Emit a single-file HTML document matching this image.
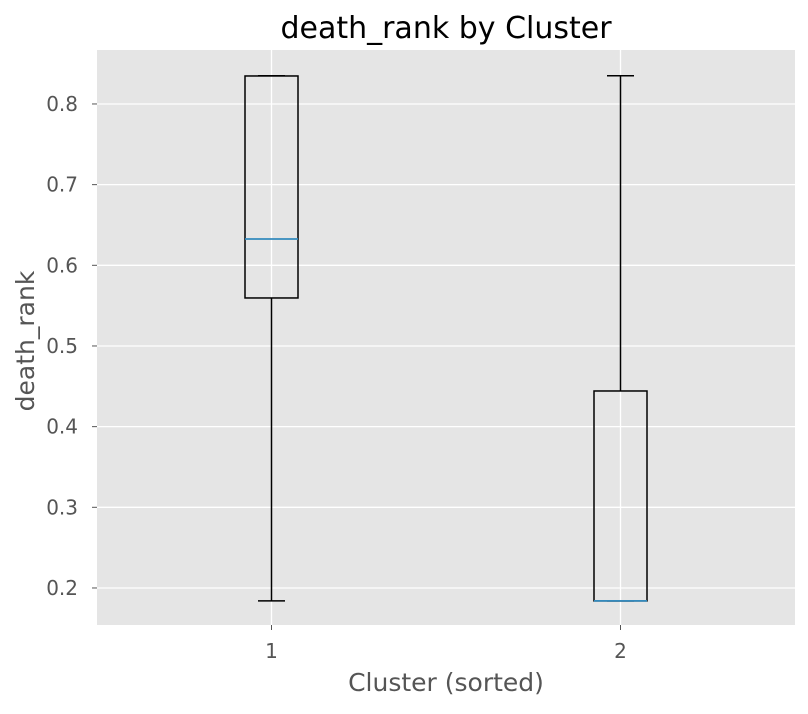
<!DOCTYPE html>
<html><head><meta charset="utf-8">
<style>
body{margin:0;background:#fff;font-family:"Liberation Sans","DejaVu Sans",sans-serif;}
svg text{font-family:"DejaVu Sans","Liberation Sans",sans-serif;}
</style></head>
<body>
<svg id="chart" width="808" height="709">
<rect x="97" y="50" width="698" height="575" fill="#e5e5e5"/>
<g id="grid"></g>
<g id="boxes"></g>
<g id="ticks"></g>
<text x="446" y="38" text-anchor="middle" font-size="30" fill="#000">death_rank by Cluster</text>
<text x="446" y="691" text-anchor="middle" font-size="25" fill="#555">Cluster (sorted)</text>
<text transform="translate(34,341) rotate(-90)" text-anchor="middle" font-size="25" fill="#555">death_rank</text>
</svg>
<script>
const categories=["1","2"];
const whiskerLow=[0.184,0.184];
const q1=[0.5595,0.184];
const median=[0.6326,0.184];
const q3=[0.8347,0.4442];
const whiskerHigh=[0.835,0.835];
const yTicks=[0.2,0.3,0.4,0.5,0.6,0.7,0.8];
const yTickLabels=["0.2","0.3","0.4","0.5","0.6","0.7","0.8"];

const X0=97,X1=795,Y0=625,Y1=50,ymin=0.1541,ymax=0.8669;
const xs=i=>X0+(i+1-0.5)/2*(X1-X0);
const ys=v=>Y0-(v-ymin)/(ymax-ymin)*(Y0-Y1);
const NS="http://www.w3.org/2000/svg";
function mk(p,tag,at){const e=document.createElementNS(NS,tag);for(const k in at)e.setAttribute(k,at[k]);p.appendChild(e);return e;}
const grid=document.getElementById('grid'),ticks=document.getElementById('ticks'),boxes=document.getElementById('boxes');
yTicks.forEach((t,i)=>{const y=ys(t);
 const g=mk(grid,'line',{x1:X0,x2:X1,y1:y,y2:y,stroke:'#fff','stroke-width':1.3});
 
 
 const tk=mk(ticks,'line',{x1:X0-5,x2:X0,y1:y,y2:y,stroke:'#555'});
 
 
 const tx=mk(ticks,'text',{x:X0-19,y:y+7,'text-anchor':'end','font-size':20,fill:'#555'});
 tx.textContent=yTickLabels[i];
 
 
});
categories.forEach((c,i)=>{const x=xs(i);
 const g=mk(grid,'line',{x1:x,x2:x,y1:Y1,y2:Y0,stroke:'#fff','stroke-width':1.3});
 
 
 const tk=mk(ticks,'line',{x1:x,x2:x,y1:Y0,y2:Y0+5,stroke:'#555'});
 
 
 const tx=mk(ticks,'text',{x:x,y:Y0+33,'text-anchor':'middle','font-size':20,fill:'#555'});
 tx.textContent=c;
 
 
 const g2=mk(boxes,'g',{});
 
 
 const bw=26.5,cw=13.5,st={stroke:'#000','stroke-width':1.5,fill:'none'};
 mk(g2,'line',Object.assign({x1:x,x2:x,y1:ys(q1[i]),y2:ys(whiskerLow[i])},st));
 mk(g2,'line',Object.assign({x1:x,x2:x,y1:ys(q3[i]),y2:ys(whiskerHigh[i])},st));
 mk(g2,'line',Object.assign({x1:x-cw,x2:x+cw,y1:ys(whiskerLow[i]),y2:ys(whiskerLow[i])},st));
 mk(g2,'line',Object.assign({x1:x-cw,x2:x+cw,y1:ys(whiskerHigh[i]),y2:ys(whiskerHigh[i])},st));
 mk(g2,'rect',Object.assign({x:x-bw,width:2*bw,y:ys(q3[i]),height:ys(q1[i])-ys(q3[i])},st));
 mk(g2,'line',{x1:x-bw,x2:x+bw,y1:ys(median[i]),y2:ys(median[i]),stroke:'#348abd','stroke-width':1.8});
});
</script>
</body></html>
